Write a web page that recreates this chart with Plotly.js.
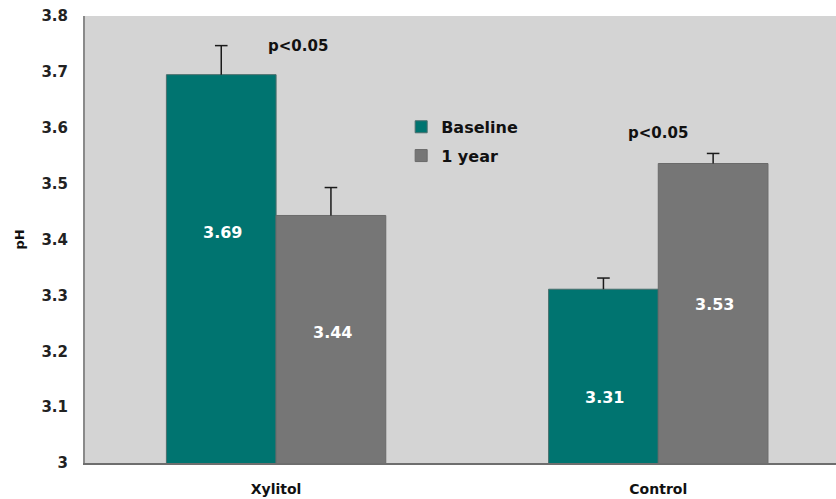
<!DOCTYPE html>
<html><head><meta charset="utf-8">
<script src="https://cdn.plot.ly/plotly-3.0.1.min.js"></script>
<style>body{margin:0;background:#fff}#c{width:836px;height:499px}</style>
</head><body><div id="c"></div>
<script>
const categories = ["Xylitol", "Control"];
const baseline = [3.695, 3.311];
const oneYear = [3.443, 3.536];
const baselineErr = [0.052, 0.02];
const oneYearErr = [0.05, 0.018];
const baselineLabels = ["3.69", "3.31"];
const oneYearLabels = ["3.44", "3.53"];
const yTicks = [3, 3.1, 3.2, 3.3, 3.4, 3.5, 3.6, 3.7, 3.8];
const yTickText = ["3", "3.1", "3.2", "3.3", "3.4", "3.5", "3.6", "3.7", "3.8"];

const font = "DejaVu Sans, Liberation Sans, Arial, sans-serif";
const labelY = [[3.412, 3.117], [3.233, 3.283]];
const ann = [];
categories.forEach((c, i) => {
  ann.push({x: c, y: labelY[0][i], xshift: -54, text: "<b>" + baselineLabels[i] + "</b>", showarrow: false, font: {family: font, size: 16, color: "#fff"}});
  ann.push({x: c, y: labelY[1][i], xshift: 56, text: "<b>" + oneYearLabels[i] + "</b>", showarrow: false, font: {family: font, size: 16, color: "#fff"}});
});
ann.push({x: 0.057, y: 3.746, xref: "x", text: "<b>p<0.05</b>", showarrow: false, font: {family: font, size: 15, color: "#111"}});
ann.push({x: 1.0, y: 3.590, xref: "x", text: "<b>p<0.05</b>", showarrow: false, font: {family: font, size: 15, color: "#111"}});

const errStyle = {color: "#1a1a1a", thickness: 1.5, width: 0};
const data = [
  {type: "bar", name: "Baseline", legendgroup: "a", x: categories, y: baseline,
   marker: {color: "#007470", line: {color: "#4a6e6c", width: 1}},
   error_y: Object.assign({type: "data", symmetric: false, array: baselineErr, arrayminus: [0, 0]}, errStyle)},
  {type: "bar", name: "1 year", legendgroup: "b", x: categories, y: oneYear,
   marker: {color: "#767676", line: {color: "#6a6a6a", width: 1}},
   error_y: Object.assign({type: "data", symmetric: false, array: oneYearErr, arrayminus: [0, 0]}, errStyle)},
  {type: "scatter", mode: "markers", showlegend: false, hoverinfo: "skip",
   x: categories, y: baseline.map((v, i) => v + baselineErr[i]), xaxis: "x2",
   marker: {symbol: "line-ew", size: 9, line: {color: "#1a1a1a", width: 1.5}}},
  {type: "scatter", mode: "markers", showlegend: false, hoverinfo: "skip",
   x: categories, y: oneYear.map((v, i) => v + oneYearErr[i]), xaxis: "x3",
   marker: {symbol: "line-ew", size: 9, line: {color: "#1a1a1a", width: 1.5}}}
];
const xr = [-0.5, 1.465];
const layout = {
  width: 836, height: 499,
  margin: {l: 85, r: 0, t: 16, b: 36},
  paper_bgcolor: "#ffffff", plot_bgcolor: "#d4d4d4",
  barmode: "group", bargap: 0.426, bargroupgap: 0,
  showlegend: true,
  legend: {x: 0.421, y: 0.79, xanchor: "left", yanchor: "top", bgcolor: "rgba(0,0,0,0)",
           traceorder: "grouped", tracegroupgap: 5,
           font: {family: font, size: 16, color: "#111", weight: "bold"}, itemwidth: 30},
  xaxis: {type: "category", range: xr, showgrid: false, zeroline: false,
          showline: true, linecolor: "#6e6e6e", linewidth: 2, ticks: "", ticklabelstandoff: 12,
          tickfont: {family: font, size: 14, color: "#111", weight: "bold"}},
  xaxis2: {type: "category", range: [xr[0] + 0.1435, xr[1] + 0.1435], overlaying: "x", visible: false},
  xaxis3: {type: "category", range: [xr[0] - 0.1435, xr[1] - 0.1435], overlaying: "x", visible: false},
  yaxis: {range: [3, 3.8], tickvals: yTicks, ticktext: yTickText, showgrid: false, zeroline: false,
          showline: true, linecolor: "#8a8a8a", linewidth: 2, ticks: "", ticklabelstandoff: 12,
          tickfont: {family: font, size: 15, color: "#222", weight: "bold"},
          title: {text: "<b>pH</b>", font: {family: font, size: 13, color: "#111"}, standoff: 14}},
  annotations: ann
};
Plotly.newPlot("c", data, layout, {displayModeBar: false, staticPlot: true});
</script></body></html>
